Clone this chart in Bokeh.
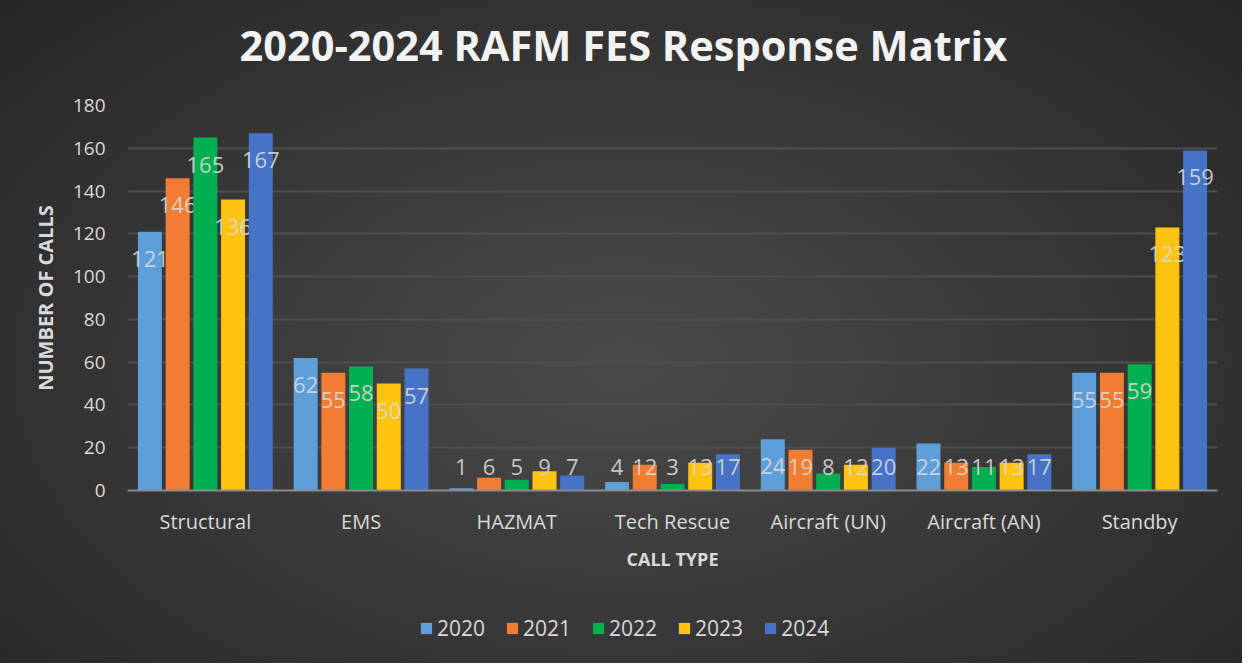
from bokeh.plotting import figure
from bokeh.models import ColumnDataSource, FactorRange, Legend, LegendItem, Title, Range1d
from bokeh.layouts import column
from bokeh.transform import dodge
from bokeh.core.properties import value
from bokeh.embed import file_html
from bokeh.resources import INLINE

categories = ["Structural", "EMS", "HAZMAT", "Tech Rescue", "Aircraft (UN)", "Aircraft (AN)", "Standby"]
years = ["2020", "2021", "2022", "2023", "2024"]
v2020 = [121, 62, 1, 4, 24, 22, 55]
v2021 = [146, 55, 6, 12, 19, 13, 55]
v2022 = [165, 58, 5, 3, 8, 11, 59]
v2023 = [136, 50, 9, 13, 12, 13, 123]
v2024 = [167, 57, 7, 17, 20, 17, 159]
series = [v2020, v2021, v2022, v2023, v2024]
colors = ["#5f9fd9", "#f07d32", "#00b050", "#ffc312", "#4673c6"]
y_ticks = [0, 20, 40, 60, 80, 100, 120, 140, 160, 180]

FONT = "Open Sans"
TXT = "#d9d9d9"

data = {"cat": categories}
for y, s in zip(years, series):
    data["v" + y] = s
    data["t" + y] = [str(v) for v in s]
    data["ly" + y] = [max(v - 12.6, 11.2) for v in s]
src = ColumnDataSource(data)

p = figure(x_range=FactorRange(factors=categories), y_range=(0, 180),
           width=1242, height=592, output_backend="svg", toolbar_location=None,
           title=None,
           min_border_left=127, min_border_right=25, min_border_top=105, min_border_bottom=102)
p.background_fill_alpha = 0
p.border_fill_alpha = 0
p.outline_line_color = None

# spacer above frame, then the real title
p.add_layout(Title(text=" ", text_font=FONT, text_font_size="19px", standoff=0), "above")
p.add_layout(Title(text="2020-2024 RAFM FES Response Matrix", text_font=FONT,
                   text_font_style="bold", text_font_size="41.5px", text_color="#f2f2f2",
                   align="left", offset=112, standoff=10), "above")

offsets = [-0.356, -0.178, 0.0, 0.178, 0.356]
for y, off, c in zip(years, offsets, colors):
    p.vbar(x=dodge("cat", off, range=p.x_range), top="v" + y, width=0.154,
           source=src, fill_color=c, line_color=None)
    p.text(x=dodge("cat", off, range=p.x_range), y="ly" + y, text="t" + y, source=src,
           text_font=value(FONT), text_font_size="22px", text_color=TXT, text_alpha=0.9,
           text_align="center", text_baseline="middle")

# axes
p.yaxis.ticker = y_ticks
p.yaxis.axis_line_color = None
p.yaxis.major_tick_line_color = None
p.yaxis.minor_tick_line_color = None
p.yaxis.major_label_text_font = FONT
p.yaxis.major_label_text_font_size = "19px"
p.yaxis.major_label_text_color = TXT
p.yaxis.major_label_standoff = 16
p.yaxis.axis_label = "NUMBER OF CALLS"
p.yaxis.axis_label_text_font = FONT
p.yaxis.axis_label_text_font_style = "bold"
p.yaxis.axis_label_text_font_size = "20px"
p.yaxis.axis_label_text_color = TXT
p.yaxis.axis_label_standoff = 11

p.xaxis.axis_line_color = "#8a8a8a"
p.xaxis.axis_line_width = 2
p.xaxis.major_tick_line_color = None
p.xaxis.minor_tick_line_color = None
p.xaxis.major_label_text_font = FONT
p.xaxis.major_label_text_font_size = "20px"
p.xaxis.major_label_text_color = TXT
p.xaxis.major_label_standoff = 11
p.xaxis.axis_label = "CALL TYPE"
p.xaxis.axis_label_text_font = FONT
p.xaxis.axis_label_text_font_style = "bold"
p.xaxis.axis_label_text_font_size = "18px"
p.xaxis.axis_label_text_color = TXT
p.xaxis.axis_label_standoff = 9

p.xgrid.grid_line_color = None
p.ygrid.grid_line_color = "#4e4e4e"
p.ygrid.grid_line_width = 2

# legend strip below the chart (hidden copies of the bar renderers supply the swatches)
lg = figure(width=1242, height=71, output_backend="svg", toolbar_location=None,
            x_range=p.x_range, y_range=Range1d(0, 180),
            min_border_left=127, min_border_right=25, min_border_top=0, min_border_bottom=0)
lg.axis.visible = False
lg.grid.visible = False
lg.background_fill_alpha = 0
lg.border_fill_alpha = 0
lg.outline_line_color = None
items = []
for y, off, c in zip(years, offsets, colors):
    r = lg.vbar(x=dodge("cat", off, range=p.x_range), top="v" + y, width=0.154,
                source=src, fill_color=c, line_color=None, visible=False)
    items.append(LegendItem(label=y, renderers=[r]))
legend = Legend(items=items, orientation="horizontal", location=(292, 21),
                glyph_width=14, glyph_height=14, label_standoff=4, spacing=20,
                padding=0, margin=0, background_fill_alpha=0, border_line_color=None,
                inactive_fill_alpha=0,
                label_text_font=FONT, label_text_font_size="21px", label_text_color=TXT)
lg.add_layout(legend)

layout = column(p, lg, spacing=0)
layout.styles = {"background": "radial-gradient(ellipse 70% 80% at 50% 55%, #4a4a4a 0%, #383838 50%, #262626 100%)"}

open("out.html", "w").write(file_html(layout, INLINE))
